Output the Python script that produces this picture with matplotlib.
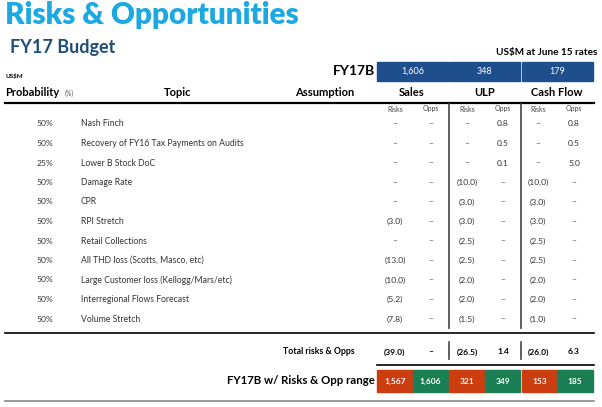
import matplotlib.pyplot as plt
from matplotlib.patches import Rectangle

plt.rcParams['font.family'] = ['Lato', 'DejaVu Sans']

# data
probabilities = ['50%', '50%', '25%', '50%', '50%', '50%', '50%', '50%', '50%', '50%', '50%']
topics = ['Nash Finch', 'Recovery of FY16 Tax Payments on Audits', 'Lower B Stock DoC',
          'Damage Rate', 'CPR', 'RPI Stretch', 'Retail Collections',
          'All THD loss (Scotts, Masco, etc)', 'Large Customer loss (Kellogg/Mars/etc)',
          'Interregional Flows Forecast', 'Volume Stretch']
sales_risks = ['–', '–', '–', '–', '–', '(3.0)', '–', '(13.0)', '(10.0)', '(5.2)', '(7.8)']
sales_opps = ['–'] * 11
ulp_risks = ['–', '–', '–', '(10.0)', '(3.0)', '(3.0)', '(2.5)', '(2.5)', '(2.0)', '(2.0)', '(1.5)']
ulp_opps = ['0.8', '0.5', '0.1', '–', '–', '–', '–', '–', '–', '–', '–']
cf_risks = ['–', '–', '–', '(10.0)', '(3.0)', '(3.0)', '(2.5)', '(2.5)', '(2.0)', '(2.0)', '(1.0)']
cf_opps = ['0.8', '0.5', '5.0', '–', '–', '–', '–', '–', '–', '–', '–']
budget = ['1,606', '348', '179']
totals = ['(39.0)', '–', '(26.5)', '1.4', '(26.0)', '6.3']
ranges = ['1,567', '1,606', '321', '349', '153', '185']

BLUE = '#1F4E8C'
RED = '#CC3D10'
GREEN = '#1A7F55'
TXT = '#333333'

fig = plt.figure(figsize=(6.02, 4.07), dpi=100)
ax = fig.add_axes([0, 0, 1, 1])
ax.set_xlim(0, 602)
ax.set_ylim(407, 0)
ax.axis('off')

# titles
ax.text(5, 15, 'Risks & Opportunities', fontsize=21.3, fontweight='heavy', color='#1CA9E1', va='center')
ax.text(10, 48, 'FY17 Budget', fontsize=13, fontweight='bold', color='#1F4E79', va='center')
ax.text(597, 53, 'US$M at June 15 rates', fontsize=7.2, fontweight='bold', color='black', ha='right', va='center')
ax.text(5, 76, 'US$M', fontsize=4.5, fontweight='bold', color='black', va='center')

# FY17B boxes
ax.text(375, 71, 'FY17B', fontsize=10, fontweight='bold', ha='right', va='center')
box_x = [(377, 448), (449, 520), (522, 593)]
for (x0, x1), val in zip(box_x, budget):
    ax.add_patch(Rectangle((x0, 62), x1 - x0, 19, color=BLUE))
    ax.text((x0 + x1) / 2, 71.5, val, fontsize=6.5, color='white', ha='center', va='center')

# header row
hy = 92
ax.text(5, hy, 'Probability', fontsize=8, fontweight='bold', va='center')
ax.text(65, hy + 1, '(%)', fontsize=5, color='#555555', va='center')
ax.text(178, hy, 'Topic', fontsize=8, fontweight='bold', ha='center', va='center')
ax.text(325, hy, 'Assumption', fontsize=8, fontweight='bold', ha='center', va='center')
ax.text(412, hy, 'Sales', fontsize=8, fontweight='bold', ha='center', va='center')
ax.text(485, hy, 'ULP', fontsize=8, fontweight='bold', ha='center', va='center')
ax.text(557, hy, 'Cash Flow', fontsize=8, fontweight='bold', ha='center', va='center')
ax.plot([5, 594], [102.5, 102.5], color='black', lw=1.6)

col_x = [395, 431, 467, 503, 538, 574]
for i, cx in enumerate(col_x):
    ax.text(cx, 109, 'Risks' if i % 2 == 0 else 'Opps', fontsize=5, color='#444444', ha='center', va='center')

# body rows
row_y = [124 + 19.5 * i for i in range(len(topics))]
cols = [sales_risks, sales_opps, ulp_risks, ulp_opps, cf_risks, cf_opps]
for i, y in enumerate(row_y):
    ax.text(45, y, probabilities[i], fontsize=6.1, color=TXT, ha='center', va='center')
    ax.text(81, y, topics[i], fontsize=6.2, color=TXT, va='center')
    for cx, col in zip(col_x, cols):
        ax.text(cx, y, col[i], fontsize=6.1, color=TXT, ha='center', va='center')

for vx in [449, 521]:
    ax.plot([vx, vx], [104, 328], color='#444444', lw=1.2)

ax.plot([5, 594], [333, 333], color='black', lw=1.2)

# totals
ty = 352
ax.text(319, ty, 'Total risks & Opps', fontsize=6.3, fontweight='bold', ha='center', va='center')
for cx, val in zip(col_x, totals):
    ax.text(cx, ty, val, fontsize=6.1, fontweight='bold', ha='center', va='center')
for vx in [449, 521]:
    ax.plot([vx, vx], [342, 359], color='#444444', lw=1.2)
ax.plot([377, 594], [365, 365], color='black', lw=1.2)

# range row
ax.text(375, 381, 'FY17B w/ Risks & Opp range', fontsize=8.2, fontweight='bold', ha='right', va='center')
range_x = [(377, 413), (413, 448), (449, 485), (485, 520), (522, 557), (557, 593)]
for j, ((x0, x1), val) in enumerate(zip(range_x, ranges)):
    ax.add_patch(Rectangle((x0, 370), x1 - x0, 22, color=RED if j % 2 == 0 else GREEN))
    ax.text((x0 + x1) / 2, 381, val, fontsize=6, fontweight='bold', color='white', ha='center', va='center')
ax.plot([5, 594], [401, 401], color='#888888', lw=1.2)

fig.savefig('out.png', dpi=100)
